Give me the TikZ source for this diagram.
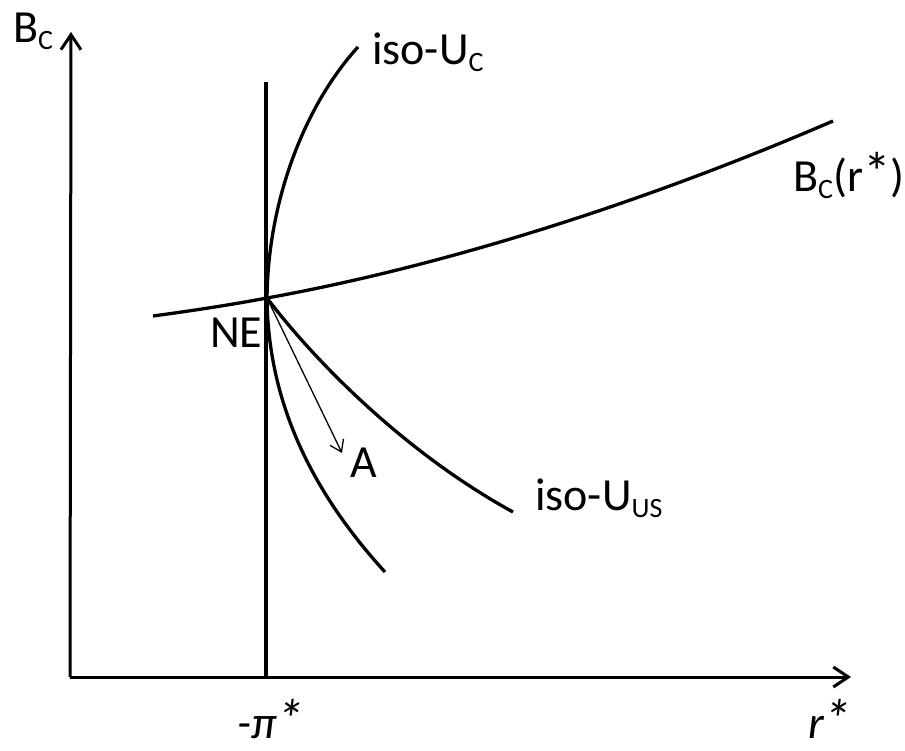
\documentclass[tikz,border=0pt]{standalone}
\usepackage{fontspec}
\setmainfont{Carlito}
\usetikzlibrary{arrows.meta}
\newcommand\lowsub[1]{\raisebox{-7pt}{\fontsize{28}{30}\selectfont #1}}
\newcommand\bigast{\scalebox{1.2}{*}}
\begin{document}
\begin{tikzpicture}[x=1pt,y=-1pt,
  curve/.style={line width=3.3pt},
  axis/.style={line width=3pt,-{Straight Barb[length=15pt,width=20pt]}},
  thinarrow/.style={line width=1.3pt,-{Straight Barb[length=11pt,width=15pt]}},
  lbl/.style={anchor=base west,inner sep=0pt,font=\fontsize{46}{50}\selectfont},
]
\useasboundingbox (0,0) rectangle (905,751);
% key points
\coordinate (O) at (70,677);
\coordinate (ytip) at (71,32);
\coordinate (xtip) at (851,677);
\coordinate (vtop) at (266,82);
\coordinate (vbot) at (266,677);
\coordinate (NE) at (267,298);
\coordinate (bcl) at (153,316);
\coordinate (bcr) at (833,121);
\coordinate (ucend) at (358,47);
\coordinate (usend) at (513,512);
\coordinate (lowend) at (385,572);
\coordinate (Atip) at (342,453);
% axes
\draw[axis] (O) -- (ytip);
\draw[axis] (O) -- (xtip);
% vertical line at -pi*
\draw[curve] (vtop) -- (vbot);
% B_C(r*)
\draw[curve] (bcl) .. controls (190,311) and (230,305) .. (NE)
  .. controls (450,265) and (650,200) .. (bcr);
% iso-U_C
\draw[curve] (NE) .. controls (268,200) and (305,105) .. (ucend);
% iso-U_US
\draw[curve] (NE) .. controls (310,355) and (400,450) .. (usend);
% lower curve
\draw[curve] (NE) .. controls (268,400) and (310,490) .. (lowend);
% arrow to A
\draw[thinarrow] (NE) -- (Atip);
% labels
\node[lbl] (lBC) at (13,43) {B\lowsub{C}};
\node[lbl] (lUC) at (372,65) {iso-U\lowsub{C}};
\node[lbl] (lBCr) at (793,192) {B\lowsub{C}(r\bigast)};
\node[lbl] (lNE) at (210,348) {NE};
\node[lbl] (lA) at (350,477) {A};
\node[lbl] (lUS) at (535,510) {iso-U\lowsub{US}};
\node[lbl] (lpi) at (237,738) {\itshape -π\bigast};
\node[lbl] (lr) at (808,738) {\itshape r\bigast};
\end{tikzpicture}
\end{document}
